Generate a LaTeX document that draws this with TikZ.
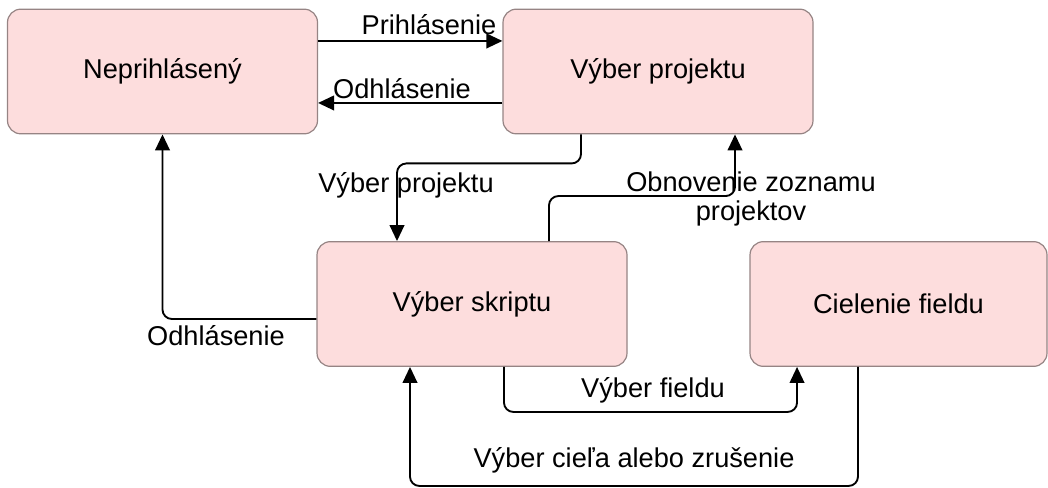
\documentclass[tikz,border=0pt]{standalone}
\usepackage{fontspec}
\setmainfont{Liberation Sans}
\usepackage{tikz}
\usetikzlibrary{arrows.meta,positioning}

\definecolor{statefill}{RGB}{253,221,221}
\definecolor{statedraw}{RGB}{150,132,132}

\begin{document}
\begin{tikzpicture}[
    x=0.75pt, y=-0.75pt,
    statebox/.style={
        rectangle,
        rounded corners=10pt,
        draw=statedraw,
        line width=0.9pt,
        fill=statefill,
        inner sep=0pt,
        minimum width=232.5pt,
        minimum height=93.5pt,
        font=\fontsize{20.4}{24}\selectfont},
    edgelabel/.style={
        inner sep=0pt,
        align=center,
        font=\fontsize{20.4}{22}\selectfont},
    myarrow/.style={
        -{Triangle[length=12pt,width=11pt]},
        line width=1.4pt,
        rounded corners=7pt}
]

\useasboundingbox (0,0) rectangle (1048,488);

\node[statebox] (nepr) at (162.5,71.5) {Neprihlásený};
\node[statebox] (proj) at (658,71.5) {Výber projektu};
\node[statebox] (skript) at (472,304) {Výber skriptu};
\node[statebox, minimum width=222.75pt] (field) at (898.5,304) {Cielenie fieldu};

% top pair
\draw[myarrow] ([yshift=22.9pt]nepr.east) -- ([yshift=22.9pt]proj.west);
\draw[myarrow] ([yshift=-23.6pt]proj.west) -- ([yshift=-23.6pt]nepr.east);

% project <-> script
\draw[myarrow] ([xshift=-57.75pt]proj.south) -- ++(0,29) -| ([xshift=-56.25pt]skript.north);
\draw[myarrow] ([xshift=57.75pt]skript.north) -- ++(0,-45) -| ([xshift=57.75pt]proj.south);

% logout from script
\draw[myarrow] ([yshift=-11.25pt]skript.west) -| (nepr.south);

% script <-> field
\draw[myarrow] ([xshift=24pt]skript.south) -- ++(0,45) -| ([xshift=-76.1pt]field.south);
\draw[myarrow] ([xshift=-30.4pt]field.south) -- ++(0,119) -| ([xshift=-46.5pt]skript.south);

\node[edgelabel] (lprihl) at (429,25) {Prihlásenie};
\node[edgelabel] (lodhl) at (402,89) {Odhlásenie};
\node[edgelabel] (lvproj) at (406,185) {Výber projektu};
\node[edgelabel] (lobnov) at (751,199) {Obnovenie zoznamu\\projektov};
\node[edgelabel] (lodhlb) at (216,336) {Odhlásenie};
\node[edgelabel] (lfield) at (653,390) {Výber fieldu};
\node[edgelabel] (lciel) at (634,460) {Výber cieľa alebo zrušenie};

\end{tikzpicture}
\end{document}
